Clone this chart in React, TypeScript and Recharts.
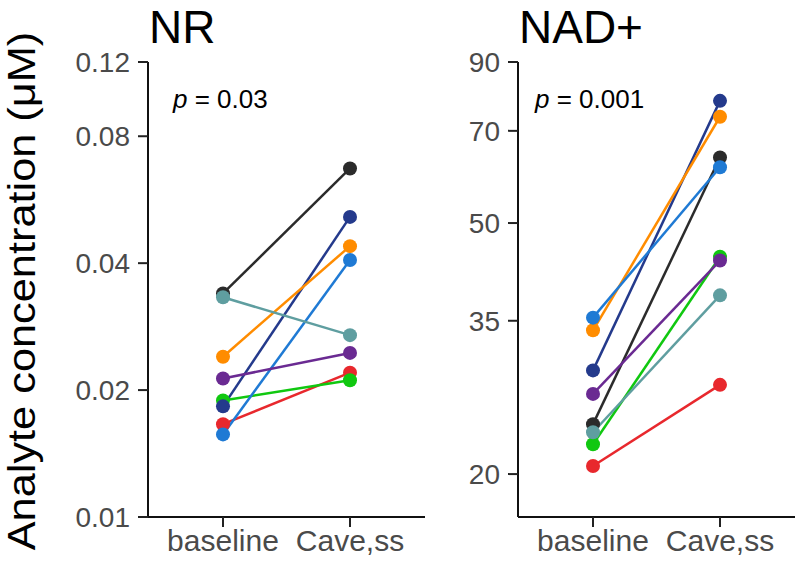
import React from "react";
import { Line, LineChart, XAxis, YAxis } from "recharts";

const categories = ["baseline", "Cave,ss"];
const subjectColors = [
  "#2b2b2b",
  "#e8282d",
  "#10c810",
  "#243a8c",
  "#ff8c00",
  "#1f7ad4",
  "#6a2a92",
  "#5f9ea0",
];

// order: black, red, green, navy, orange, blue, purple, teal
const nrBaseline = [0.0339, 0.0166, 0.0189, 0.0183, 0.024, 0.0157, 0.0213, 0.0332];
const nrCave = [0.0671, 0.022, 0.0211, 0.0515, 0.0439, 0.0407, 0.0245, 0.027];
const nadBaseline = [24.0, 20.6, 22.3, 29.2, 33.8, 35.4, 26.8, 23.3];
const nadCave = [63.5, 27.7, 44.2, 78.1, 73.7, 61.3, 43.6, 38.4];

const nrTicks = [0.01, 0.02, 0.04, 0.08, 0.12];
const nadTicks = [20, 35, 50, 70, 90];

const FONT = "'Liberation Sans', Arial, sans-serif";
const GRAY = "#4a4a4a";

function buildRows(base: number[], cave: number[]) {
  return categories.map((cat, i) => {
    const row: Record<string, number | string> = { cat };
    const vals = i === 0 ? base : cave;
    vals.forEach((v, k) => {
      row[`s${k}`] = v;
    });
    return row;
  });
}

interface IPanelProps {
  readonly rows: Record<string, number | string>[];
  readonly ticks: number[];
  readonly domain: [number, number];
  readonly axisWidth: number;
  readonly width: number;
  readonly marginRight: number;
}

function Panel({ rows, ticks, domain, axisWidth, width, marginRight }: IPanelProps) {
  return (
    <LineChart
      width={width}
      height={567}
      data={rows}
      margin={{ top: 62, right: marginRight, left: 0, bottom: 0 }}
      style={{ fontFamily: FONT }}
    >
      <XAxis
        dataKey="cat"
        type="category"
        padding={{ left: 75, right: 75 }}
        height={50}
        interval={0}
        tickSize={10}
        tickMargin={3}
        tick={{ fontSize: 30, fill: GRAY }}
        tickLine={{ stroke: "#222", strokeWidth: 2 }}
        axisLine={{ stroke: "#111", strokeWidth: 2 }}
      />
      <XAxis
        xAxisId="top"
        orientation="top"
        dataKey="cat"
        height={0}
        tick={false}
        tickLine={false}
        axisLine={{ stroke: "#111", strokeWidth: 2 }}
      />
      <YAxis
        scale="log"
        domain={domain}
        ticks={ticks}
        allowDataOverflow
        width={axisWidth}
        interval={0}
        tickSize={10}
        tickMargin={8}
        tick={{ fontSize: 28, fill: GRAY }}
        tickLine={{ stroke: "#222", strokeWidth: 2 }}
        axisLine={{ stroke: "#111", strokeWidth: 2 }}
      />
      <YAxis
        yAxisId="right"
        orientation="right"
        scale="log"
        domain={domain}
        allowDataOverflow
        width={0}
        tick={false}
        tickLine={false}
        axisLine={{ stroke: "#111", strokeWidth: 2 }}
      />
      {subjectColors.map((c, k) => (
        <Line
          key={k}
          type="linear"
          dataKey={`s${k}`}
          stroke={c}
          strokeWidth={2.5}
          dot={{ r: 7, fill: c, stroke: c, strokeWidth: 0 }}
          isAnimationActive={false}
        />
      ))}
    </LineChart>
  );
}

export default function App() {
  const nrRows = buildRows(nrBaseline, nrCave);
  const nadRows = buildRows(nadBaseline, nadCave);
  return (
    <div
      style={{
        position: "absolute",
        left: 0,
        top: 0,
        width: 800,
        height: 567,
        background: "#fff",
        fontFamily: FONT,
      }}
    >
      <div style={{ position: "absolute", left: 0, top: 0 }}>
        <Panel
          rows={nrRows}
          ticks={nrTicks}
          domain={[0.01, 0.12]}
          axisWidth={148}
          width={440}
          marginRight={15}
        />
      </div>
      <div style={{ position: "absolute", left: 440, top: 0 }}>
        <Panel
          rows={nadRows}
          ticks={nadTicks}
          domain={[17.1, 90]}
          axisWidth={78}
          width={360}
          marginRight={5}
        />
      </div>
      <div
        style={{
          position: "absolute",
          left: 22 - 300,
          top: 291 - 22,
          width: 600,
          height: 44,
          lineHeight: "44px",
          textAlign: "center",
          fontSize: 38,
          color: "#000",
          whiteSpace: "nowrap",
          transform: "rotate(-90deg) scaleX(1.14)",
        }}
      >
        Analyte concentration (μM)
      </div>
      <div style={{ position: "absolute", left: 149, top: 1, fontSize: 46, lineHeight: "52px", color: "#000" }}>NR</div>
      <div style={{ position: "absolute", left: 519, top: 1, fontSize: 46, lineHeight: "52px", color: "#000" }}>NAD+</div>
      <div style={{ position: "absolute", left: 173, top: 84, fontSize: 26, color: "#000" }}>
        <i>p</i> = 0.03
      </div>
      <div style={{ position: "absolute", left: 535, top: 84, fontSize: 26, color: "#000" }}>
        <i>p</i> = 0.001
      </div>
    </div>
  );
}
